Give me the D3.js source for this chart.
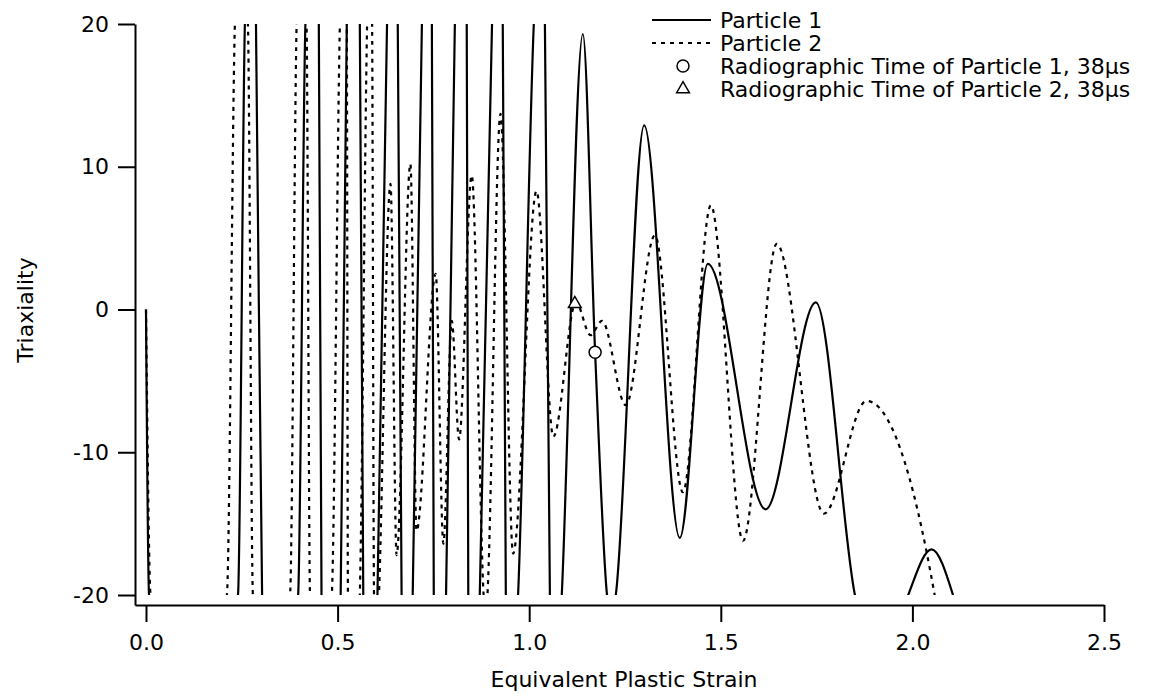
<!DOCTYPE html>
<html>
<head>
<meta charset="utf-8">
<script src="https://cdn.jsdelivr.net/npm/d3@7/dist/d3.min.js"></script>
<style>
  body { margin: 0; background: #fff; }
  svg { display: block; font-family: "DejaVu Sans", sans-serif; }
</style>
</head>
<body>
<svg></svg>
<script>
// Particle 1 (solid) — strain / triaxiality
// values beyond ±20 are only there so the spikes leave the frame
const p1Strain = [
  0.000, 0.008, 0.120,
  0.240, 0.258, 0.272, 0.287, 0.303, 0.350,
  0.397, 0.416, 0.434, 0.451, 0.458, 0.483,
  0.508, 0.524, 0.541, 0.558, 0.567, 0.585,
  0.604, 0.629, 0.643, 0.657, 0.667, 0.681,
  0.696, 0.720, 0.733, 0.746, 0.751, 0.767,
  0.783, 0.806, 0.822, 0.837, 0.841, 0.856,
  0.871, 0.903, 0.917, 0.931, 0.939, 0.955,
  0.971, 1.012, 1.027, 1.041, 1.054, 1.070,
  1.085, 1.140, 1.172, 1.203, 1.214, 1.226, 1.300, 1.393, 1.466,
  1.617, 1.748, 1.850, 1.920, 1.989, 2.050, 2.106,
];
const p1Triax = [
  0, -20, -28,
  -20, 20, 28, 20, -20, -28,
  -20, 20, 28, 20, -20, -28,
  -20, 20, 28, 20, -20, -28,
  -20, 20, 28, 20, -20, -28,
  -20, 20, 28, 20, -20, -28,
  -20, 20, 28, 20, -20, -28,
  -20, 20, 28, 20, -20, -28,
  -20, 20, 28, 20, -20, -28,
  -20, 19.3, -3.0, -20, -22, -20, 12.9, -16.0, 3.2,
  -14.0, 0.5, -20, -26, -20, -16.8, -20,
];

// Particle 2 (dotted)
const p2Strain = [
  0.000, 0.012, 0.110,
  0.211, 0.232, 0.249, 0.266, 0.279, 0.328,
  0.376, 0.393, 0.406, 0.419, 0.428, 0.456,
  0.485, 0.506, 0.515, 0.524, 0.527, 0.543,
  0.558, 0.577, 0.584, 0.590, 0.595, 0.601,
  0.608, 0.638, 0.654, 0.690, 0.706, 0.756, 0.776, 0.798, 0.817, 0.850,
  0.881, 0.886, 0.891, 0.925, 0.958, 1.019, 1.063, 1.122, 1.160, 1.190,
  1.252, 1.328, 1.401, 1.474, 1.558, 1.646, 1.769, 1.880, 2.058, 2.075,
];
const p2Triax = [
  0, -20, -28,
  -20, 20, 28, 20, -20, -28,
  -20, 20, 28, 20, -20, -28,
  -20, 20, 28, 20, -20, -28,
  -20, 20, 28, 20, -20, -25,
  -20, 8.8, -17.2, 10.2, -15.5, 2.5, -16.4, -0.8, -9.1, 9.4,
  -20, -22, -20, 13.7, -17.1, 8.3, -8.9, 0.5, -1.8, -0.8,
  -6.7, 5.2, -12.8, 7.3, -16.2, 4.6, -14.3, -6.4, -20, -24,
];

// radiographic time markers: [particle 1 (circle), particle 2 (triangle)]
const markerStrain = [1.172, 1.119];
const markerTriax = [-3.0, 0.4];

const xTicks = [0, 0.5, 1.0, 1.5, 2.0, 2.5];
const yTicks = [-20, -10, 0, 10, 20];
const legendLabels = [
  "Particle 1",
  "Particle 2",
  "Radiographic Time of Particle 1, 38\u00b5s",
  "Radiographic Time of Particle 2, 38\u00b5s",
];

const width = 1159;
const height = 698;

const svg = d3.select("svg").attr("width", width).attr("height", height);

// scales: axis lines start a bit outside the data range like the original
const x = d3.scaleLinear().domain([-0.0287, 2.5]).range([135, 1104]);
const y = d3.scaleLinear().domain([-20.7, 20]).range([605, 24]);

// clip to the triaxiality range so spikes get cut at ±20
svg.append("defs")
  .append("clipPath")
  .attr("id", "plot-clip")
  .append("rect")
  .attr("x", x.range()[0])
  .attr("y", y(20))
  .attr("width", x.range()[1] - x.range()[0])
  .attr("height", y(-20) - y(20));

// axes (plain hyphen for negatives, like the original)
const xAxis = svg.append("g")
  .attr("transform", `translate(0,${y.range()[0]})`)
  .call(d3.axisBottom(x).tickValues(xTicks).tickFormat((d) => d.toFixed(1))
    .tickSize(17).tickSizeOuter(0).tickPadding(12));

const yAxis = svg.append("g")
  .attr("transform", `translate(${x.range()[0]},0)`)
  .call(d3.axisLeft(y).tickValues(yTicks).tickFormat((d) => String(d))
    .tickSize(17).tickSizeOuter(0).tickPadding(9));

[xAxis, yAxis].forEach((ax) => {
  ax.selectAll("path, line").attr("stroke", "#000").attr("stroke-width", 2);
  ax.selectAll("text")
    .attr("fill", "#000")
    .style("font-size", "22px")
    .style("font-family", "DejaVu Sans, sans-serif");
});

svg.append("text")
  .attr("x", 624)
  .attr("y", 687)
  .attr("text-anchor", "middle")
  .style("font-size", "22px")
  .text("Equivalent Plastic Strain");

svg.append("text")
  .attr("transform", "translate(33,310) rotate(-90)")
  .attr("text-anchor", "middle")
  .style("font-size", "22px")
  .text("Triaxiality");

// lines
const line = d3.line()
  .x((d) => x(d[0]))
  .y((d) => y(d[1]))
  .curve(d3.curveMonotoneX);

const plot = svg.append("g").attr("clip-path", "url(#plot-clip)");

const p1 = p1Strain.map((s, i) => [s, p1Triax[i]]);
const p2 = p2Strain.map((s, i) => [s, p2Triax[i]]);

plot.append("path")
  .datum(p2)
  .attr("d", line)
  .attr("fill", "none")
  .attr("stroke", "#000")
  .attr("stroke-width", 2.2)
  .attr("stroke-dasharray", "4 5");

plot.append("path")
  .datum(p1)
  .attr("d", line)
  .attr("fill", "none")
  .attr("stroke", "#000")
  .attr("stroke-width", 2.2);

// markers
svg.append("circle")
  .attr("cx", x(markerStrain[0]))
  .attr("cy", y(markerTriax[0]))
  .attr("r", 6)
  .attr("fill", "#fff")
  .attr("stroke", "#000")
  .attr("stroke-width", 1.5);

svg.append("path")
  .attr("d", d3.symbol(d3.symbolTriangle, 70))
  .attr("transform", `translate(${x(markerStrain[1])},${y(markerTriax[1])})`)
  .attr("fill", "#fff")
  .attr("stroke", "#000")
  .attr("stroke-width", 1.5);

// legend
const legend = svg.append("g").attr("transform", "translate(652,20)");
const rowH = 23;

legendLabels.forEach((lab, i) => {
  const row = legend.append("g").attr("transform", `translate(0,${i * rowH})`);
  if (i < 2) {
    row.append("line")
      .attr("x1", 0).attr("x2", 59)
      .attr("y1", 0).attr("y2", 0)
      .attr("stroke", "#000")
      .attr("stroke-width", 2)
      .attr("stroke-dasharray", i === 1 ? "4 5" : null);
  } else if (i === 2) {
    row.append("circle")
      .attr("cx", 31).attr("cy", 0).attr("r", 6)
      .attr("fill", "#fff").attr("stroke", "#000").attr("stroke-width", 1.5);
  } else {
    row.append("path")
      .attr("d", d3.symbol(d3.symbolTriangle, 70))
      .attr("transform", "translate(31,0)")
      .attr("fill", "#fff").attr("stroke", "#000").attr("stroke-width", 1.5);
  }
  row.append("text")
    .attr("x", 68)
    .attr("y", 8)
    .style("font-size", "22px")
    .text(lab);
});
</script>
</body>
</html>
